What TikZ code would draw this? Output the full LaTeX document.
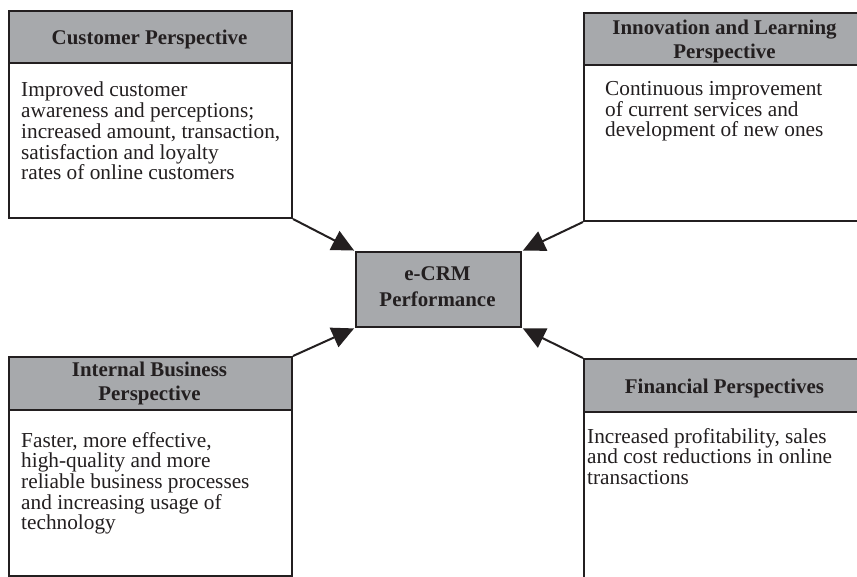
\documentclass[tikz,border=0pt]{standalone}
\usepackage{fontspec}
\setmainfont{Liberation Serif}
\usetikzlibrary{arrows.meta}
\definecolor{ink}{HTML}{231F20}
\definecolor{hdrgray}{HTML}{A7A9AC}
\begin{document}
\begin{tikzpicture}[x=1pt,y=-1pt,
  every node/.style={text=ink},
  hdr/.style={draw=ink, fill=hdrgray, line width=2pt, minimum width=283pt, anchor=north west, inner sep=0pt},
  hdrtext/.style={anchor=north, inner sep=0pt, align=center, font=\fontsize{20.9}{23.7}\selectfont\bfseries},
  bodybox/.style={draw=ink, line width=2pt, minimum width=283pt, anchor=north west, inner sep=0pt},
  bodytext/.style={anchor=north west, inner sep=0pt, align=left, font=\fontsize{21.3}{20.7}\selectfont},
  arr/.style={draw=ink, line width=2pt, -{Triangle[length=22pt,width=21pt]}, shorten >=1pt}
]
\clip (0,0) rectangle (857,577);
\fill[white] (0,0) rectangle (857,577);

% top left
\node[bodybox, minimum height=155pt] (tlb) at (8,62) {};
\node[hdr, minimum height=52pt] (tlh) at (8,10) {};
\node[hdrtext] (tlht) at (149.5,30.3) {Customer Perspective};
\node[bodytext] (tlt) at (21,82) {Improved customer\\awareness and perceptions;\\increased amount, transaction,\\satisfaction and loyalty\\rates of online customers};

% top right
\node[bodybox, minimum height=156pt] (trb) at (583,64) {};
\node[hdr, minimum height=52pt] (trh) at (583,12) {};
\node[hdrtext] (trht) at (724.5,20.3) {Innovation and Learning\\Perspective};
\node[bodytext] (trt) at (605,81) {Continuous improvement\\of current services and\\development of new ones};

% bottom left
\node[bodybox, minimum height=166pt] (blb) at (8,409) {};
\node[hdr, minimum height=53pt] (blh) at (8,356) {};
\node[hdrtext] (blht) at (149.5,362) {Internal Business\\Perspective};
\node[bodytext] (blt) at (21,432) {Faster, more effective,\\high-quality and more\\reliable business processes\\and increasing usage of\\technology};

% bottom right
\node[bodybox, minimum height=200pt] (brb) at (583,411) {};
\node[hdr, minimum height=53pt] (brh) at (583,358) {};
\node[hdrtext] (brht) at (724.5,379) {Financial Perspectives};
\node[bodytext] (brt) at (587,428) {Increased profitability, sales\\and cost reductions in online\\transactions};

% centre
\node[hdr, minimum width=165pt, minimum height=75pt] (ctr) at (355,251) {};
\node[hdrtext, font=\fontsize{20.9}{26}\selectfont\bfseries] (ctrt) at (437.5,266) {e-CRM\\Performance};

\draw[arr] (tlb.south east) -- (ctr.north west);
\draw[arr] (trb.south west) -- (ctr.north east);
\draw[arr] (blh.north east) -- (ctr.south west);
\draw[arr] (brh.north west) -- (ctr.south east);
\end{tikzpicture}
\end{document}
